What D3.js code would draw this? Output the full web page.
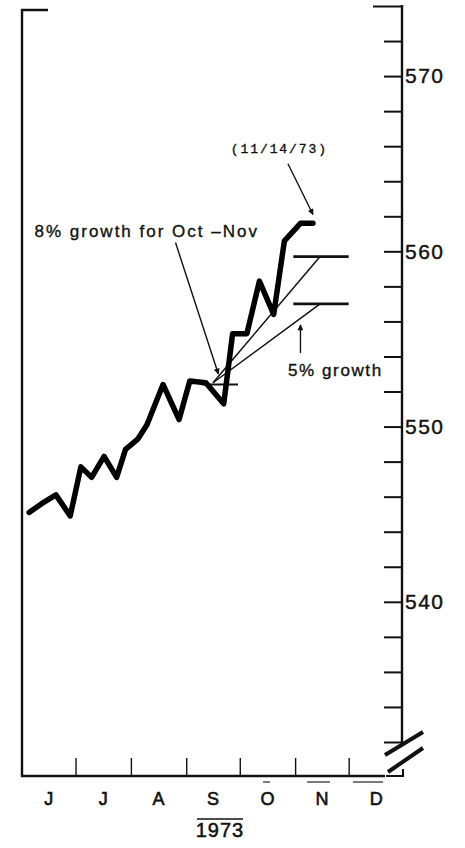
<!DOCTYPE html>
<html>
<head>
<meta charset="utf-8">
<script src="https://cdn.jsdelivr.net/npm/d3@7"></script>
<style>
  body { margin: 0; background: #fff; }
  svg { display: block; }
  text { font-family: "Liberation Sans", Arial, sans-serif; fill: #111; }
</style>
</head>
<body>
<div id="chart"></div>
<script>
// weekly money stock, June - Nov 1973
let weeks = ["1973-06-05", "1973-06-12", "1973-06-20", "1973-06-28", "1973-07-04", "1973-07-10",
  "1973-07-17", "1973-07-24", "1973-07-29", "1973-08-05", "1973-08-10", "1973-08-19",
  "1973-08-28", "1973-09-03", "1973-09-12", "1973-09-22", "1973-09-27", "1973-10-05",
  "1973-10-12", "1973-10-20", "1973-10-26", "1973-11-04", "1973-11-11"];
let stock = [545.1, 545.6, 546.1, 544.9, 547.7, 547.1, 548.3, 547.1, 548.7, 549.3, 550.1, 552.4,
  550.4, 552.6, 552.5, 551.3, 555.3, 555.3, 558.3, 556.4, 560.6, 561.6, 561.6];

let monthLabels = ["J", "J", "A", "S", "O", "N", "D"];
let yLabels = [570, 560, 550, 540];
let yearLabel = "1973";

// growth paths from the september base
let growthStart = { date: "1973-09-16", value: 552.5 };
let growthEnds = [{ label: "8%", date: "1973-11-15", value: 559.7 }, { label: "5%", date: "1973-11-15", value: 557.0 }];
let targetSpan = ["1973-10-31", "1973-12-01"];
let baseSpan = ["1973-09-10", "1973-09-30"];
let baseValue = 552.4;

document.addEventListener("DOMContentLoaded", function () {
  let parse = d3.timeParse("%Y-%m-%d");
  let W = 465, H = 848;
  let svg = d3.select("#chart").append("svg").attr("width", W).attr("height", H);

  let x = d3.scaleTime()
    .domain([new Date(1973, 5, 1), new Date(1974, 0, 1)])
    .range([22, 404]);
  let y = d3.scaleLinear()
    .domain([532, 574])
    .range([742, 6]);

  let baseY = 776, axisX = 402;

  // left axis + top cap
  svg.append("path")
    .attr("d", "M48," + 10 + "H22V" + baseY + "H385")
    .attr("fill", "none").attr("stroke", "#111").attr("stroke-width", 2.4);

  // bottom axis month ticks (pointing up)
  let monthTicks = d3.timeMonth.range(new Date(1973, 6, 1), new Date(1974, 0, 1));
  let xAxis = d3.axisBottom(x).tickValues(monthTicks).tickSize(-18).tickFormat("");
  let gx = svg.append("g").attr("transform", "translate(0," + baseY + ")").call(xAxis);
  gx.select(".domain").remove();
  gx.selectAll(".tick line").attr("stroke", "#111").attr("stroke-width", 1.4);

  let months = d3.timeMonth.range(new Date(1973, 5, 1), new Date(1974, 0, 1));
  svg.selectAll(".month-label")
    .data(months)
    .enter().append("text")
    .attr("class", "month-label")
    .attr("x", d => (x(d) + x(d3.timeMonth.offset(d, 1))) / 2)
    .attr("y", 805)
    .attr("text-anchor", "middle")
    .style("font-size", "18px")
    .style("stroke", "#111").style("stroke-width", 0.6)
    .text((d, i) => monthLabels[i]);

  // little overbars on O, N, D as in the original
  [[263, 270], [307, 330], [353, 383]].forEach(s => {
    svg.append("line").attr("x1", s[0]).attr("x2", s[1]).attr("y1", 782).attr("y2", 782)
      .attr("stroke", "#222").attr("stroke-width", 1.2);
  });

  svg.append("line").attr("x1", 197).attr("x2", 243).attr("y1", 819).attr("y2", 819)
    .attr("stroke", "#111").attr("stroke-width", 1.4);
  svg.append("text")
    .attr("x", 220).attr("y", 837)
    .attr("text-anchor", "middle")
    .style("font-size", "20px")
    .style("letter-spacing", "1px")
    .style("stroke", "#111").style("stroke-width", 0.5)
    .text(yearLabel);

  // right axis
  let yAxis = d3.axisRight(y)
    .tickValues(d3.range(532, 575, 2))
    .tickSize(-18)
    .tickPadding(3)
    .tickFormat(d => yLabels.indexOf(d) >= 0 ? d : "");
  let gy = svg.append("g").attr("transform", "translate(" + axisX + ",0)").call(yAxis);
  gy.select(".domain").remove();
  gy.selectAll(".tick line").attr("stroke", "#111").attr("stroke-width", 2);
  gy.selectAll(".tick").filter(d => d === 574).select("line").attr("x2", -29);
  gy.selectAll(".tick text")
    .style("font-size", "21px")
    .style("letter-spacing", "1.5px")
    .style("stroke", "#111").style("stroke-width", 0.4)
    .attr("fill", "#111");

  // axis line with a break near the bottom
  svg.append("line").attr("x1", axisX).attr("x2", axisX).attr("y1", y(574) - 1).attr("y2", 746)
    .attr("stroke", "#111").attr("stroke-width", 2.4);
  svg.append("path").attr("d", "M" + (axisX + 1) + ",769V" + baseY + "H386")
    .attr("fill", "none").attr("stroke", "#111").attr("stroke-width", 2);
  svg.append("line").attr("x1", 385).attr("y1", 755).attr("x2", 423).attr("y2", 732)
    .attr("stroke", "#111").attr("stroke-width", 4);
  svg.append("line").attr("x1", 388).attr("y1", 772).attr("x2", 423).attr("y2", 748)
    .attr("stroke", "#111").attr("stroke-width", 4);

  // arrow marker
  svg.append("defs").append("marker")
    .attr("id", "arrow")
    .attr("viewBox", "0 0 10 10")
    .attr("refX", 9).attr("refY", 5)
    .attr("markerWidth", 9).attr("markerHeight", 6)
    .attr("markerUnits", "userSpaceOnUse")
    .attr("orient", "auto")
    .append("path").attr("d", "M0,0L10,5L0,10z").attr("fill", "#111");

  // growth paths and target levels
  growthEnds.forEach(g => {
    svg.append("line")
      .attr("x1", x(parse(growthStart.date))).attr("y1", y(growthStart.value))
      .attr("x2", x(parse(g.date))).attr("y2", y(g.value))
      .attr("stroke", "#111").attr("stroke-width", 1.5);
    svg.append("line")
      .attr("x1", x(parse(targetSpan[0]))).attr("x2", x(parse(targetSpan[1])))
      .attr("y1", y(g.value)).attr("y2", y(g.value))
      .attr("stroke", "#111").attr("stroke-width", 2.6);
  });
  svg.append("line")
    .attr("x1", x(parse(baseSpan[0]))).attr("x2", x(parse(baseSpan[1])))
    .attr("y1", y(baseValue)).attr("y2", y(baseValue))
    .attr("stroke", "#111").attr("stroke-width", 2);

  // the series
  let data = weeks.map((w, i) => ({ date: parse(w), value: stock[i] }));
  let line = d3.line().x(d => x(d.date)).y(d => y(d.value));
  svg.append("path")
    .datum(data)
    .attr("d", line)
    .attr("fill", "none")
    .attr("stroke", "#000")
    .attr("stroke-width", 5.5)
    .attr("stroke-linejoin", "round")
    .attr("stroke-linecap", "round");

  // annotations (anchored in data units)
  let notes = [
    { text: "8% growth for Oct \u2013Nov", date: "1973-06-08", value: 560.8, size: 17, spacing: 2, font: "Liberation Sans" },
    { text: "(11/14/73)", date: "1973-09-26", value: 565.6, size: 13, spacing: 1.9, font: "Liberation Mono" },
    { text: "5% growth", date: "1973-10-28", value: 552.9, size: 17, spacing: 1.6, font: "Liberation Sans" }
  ];
  svg.selectAll(".note")
    .data(notes)
    .enter().append("text")
    .attr("class", "note")
    .attr("x", d => x(parse(d.date)))
    .attr("y", d => y(d.value))
    .style("font-family", d => d.font)
    .style("font-size", d => d.size + "px")
    .style("letter-spacing", d => d.spacing + "px")
    .style("stroke", "#111").style("stroke-width", 0.35)
    .text(d => d.text);

  let arrows = [
    { from: ["1973-08-26", 560.5], to: ["1973-09-19", 553.0] },
    { from: ["1973-10-28", 565.0], to: ["1973-11-11", 562.1] },
    { from: ["1973-11-04", 554.2], to: ["1973-11-04", 555.8] }
  ];
  svg.selectAll(".arrow")
    .data(arrows)
    .enter().append("line")
    .attr("class", "arrow")
    .attr("x1", d => x(parse(d.from[0]))).attr("y1", d => y(d.from[1]))
    .attr("x2", d => x(parse(d.to[0]))).attr("y2", d => y(d.to[1]))
    .attr("stroke", "#111").attr("stroke-width", 1.4)
    .attr("marker-end", "url(#arrow)");
});
</script>
</body>
</html>
